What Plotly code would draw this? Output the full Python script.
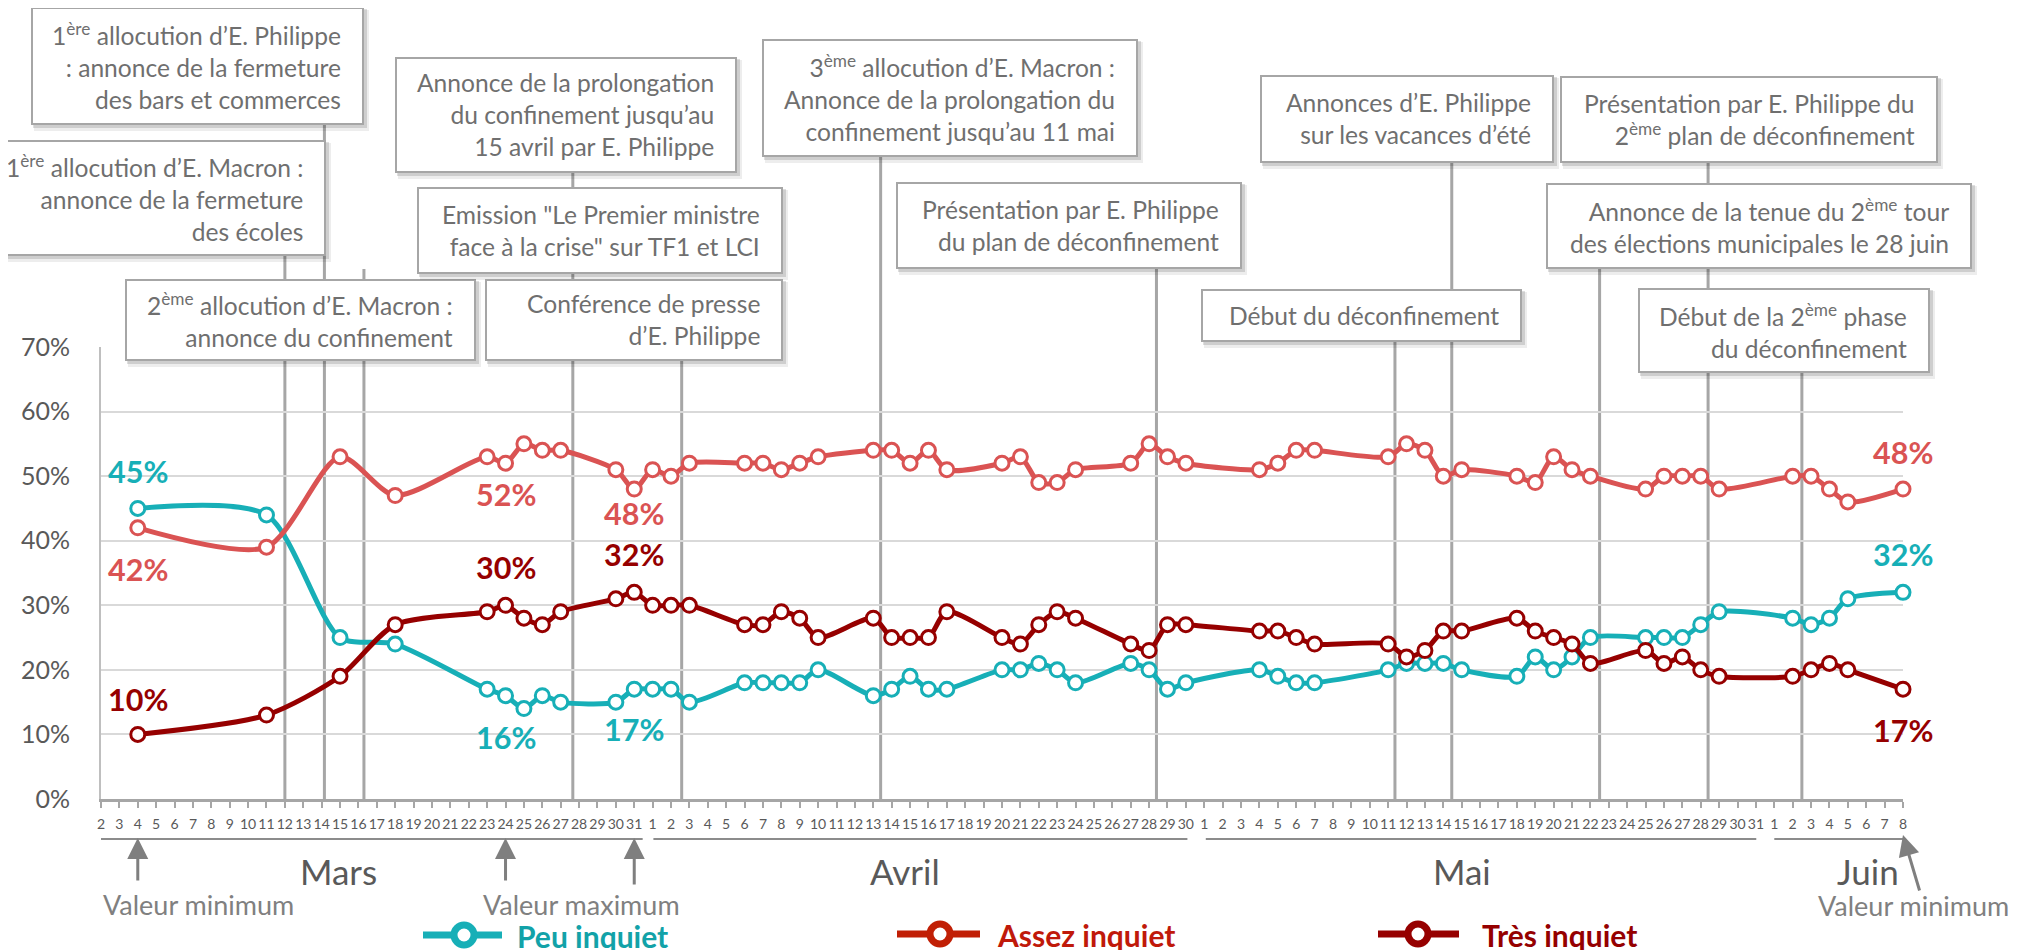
import plotly.graph_objects as go
import pandas as pd

# page body has an 8 px margin: the figure is offset by it and reaches the window's edges
PAGE_W, PAGE_H, BODY_MARGIN = 2018, 950, 8
W, H = PAGE_W - BODY_MARGIN, PAGE_H - BODY_MARGIN
FONT = "Lato, sans-serif"

# ---------------- data ----------------
dates = [
    "2020-03-04", "2020-03-11", "2020-03-15", "2020-03-18", "2020-03-23", "2020-03-24",
    "2020-03-25", "2020-03-26", "2020-03-27", "2020-03-30", "2020-03-31",
    "2020-04-01", "2020-04-02", "2020-04-03", "2020-04-06", "2020-04-07", "2020-04-08",
    "2020-04-09", "2020-04-10", "2020-04-13", "2020-04-14", "2020-04-15", "2020-04-16",
    "2020-04-17", "2020-04-20", "2020-04-21", "2020-04-22", "2020-04-23", "2020-04-24",
    "2020-04-27", "2020-04-28", "2020-04-29", "2020-04-30",
    "2020-05-04", "2020-05-05", "2020-05-06", "2020-05-07", "2020-05-11", "2020-05-12",
    "2020-05-13", "2020-05-14", "2020-05-15", "2020-05-18", "2020-05-19", "2020-05-20",
    "2020-05-21", "2020-05-22", "2020-05-25", "2020-05-26", "2020-05-27", "2020-05-28",
    "2020-05-29",
    "2020-06-02", "2020-06-03", "2020-06-04", "2020-06-05", "2020-06-08",
]
peu_inquiet = [
    45, 44, 25, 24, 17, 16, 14, 16, 15, 15, 17,
    17, 17, 15, 18, 18, 18, 18, 20, 16, 17, 19, 17, 17, 20, 20, 21, 20, 18, 21, 20, 17, 18,
    20, 19, 18, 18, 20, 21, 21, 21, 20, 19, 22, 20, 22, 25, 25, 25, 25, 27, 29,
    28, 27, 28, 31, 32,
]
assez_inquiet = [
    42, 39, 53, 47, 53, 52, 55, 54, 54, 51, 48,
    51, 50, 52, 52, 52, 51, 52, 53, 54, 54, 52, 54, 51, 52, 53, 49, 49, 51, 52, 55, 53, 52,
    51, 52, 54, 54, 53, 55, 54, 50, 51, 50, 49, 53, 51, 50, 48, 50, 50, 50, 48,
    50, 50, 48, 46, 48,
]
tres_inquiet = [
    10, 13, 19, 27, 29, 30, 28, 27, 29, 31, 32,
    30, 30, 30, 27, 27, 29, 28, 25, 28, 25, 25, 25, 29, 25, 24, 27, 29, 28, 24, 23, 27, 27,
    26, 26, 25, 24, 24, 22, 23, 26, 26, 28, 26, 25, 24, 21, 23, 21, 22, 20, 19,
    19, 20, 21, 20, 17,
]
series_names = ["Peu inquiet", "Assez inquiet", "Très inquiet"]
series_values = [peu_inquiet, assez_inquiet, tres_inquiet]
line_colors = ["#17AFB7", "#DA5353", "#960000"]
legend_colors = ["#17AFB7", "#C11F05", "#960000"]
legend_text_colors = ["#12A2A8", "#C0190A", "#950000"]

y_tickvals = [0, 10, 20, 30, 40, 50, 60, 70]
y_ticktext = ["0%", "10%", "20%", "30%", "40%", "50%", "60%", "70%"]

axis_start, axis_end = "2020-03-02", "2020-06-08"
tick_dates = [d.strftime("%Y-%m-%d") for d in pd.date_range(axis_start, axis_end, freq="D")]
tick_labels = [str(int(d[-2:])) for d in tick_dates]

months = ["Mars", "Avril", "Mai", "Juin"]
month_label_pos = ["2020-03-14 21:36", "2020-04-14 16:48", "2020-05-15 00:00", "2020-06-06 02:24"]
month_spans = [("2020-03-01 20:00", "2020-03-31 11:00"), ("2020-04-01 01:00", "2020-04-30 02:00"),
               ("2020-05-01 02:00", "2020-05-31 00:30"), ("2020-06-01 00:00", "2020-06-08 00:00")]

# event vertical lines: (date, top of line in page px)
events = [
    ("2020-03-12 00:00", 255), ("2020-03-14 03:36", 124), ("2020-03-16 07:12", 269),
    ("2020-03-27 15:50", 172), ("2020-04-02 13:55", 360), ("2020-04-13 09:36", 156),
    ("2020-04-28 09:36", 268), ("2020-05-11 08:53", 341), ("2020-05-14 11:02", 162),
    ("2020-05-22 12:00", 268), ("2020-05-28 09:36", 162), ("2020-06-02 12:00", 372),
]

# event boxes: text, x0, y0, x1, y1 (page px)
boxes = [
    ("1<sup>ère</sup> allocution d’E. Philippe<br>: annonce de la fermeture<br>des bars et commerces", 32, 8, 363, 124),
    ("1<sup>ère</sup> allocution d’E. Macron :<br>annonce de la fermeture<br>des écoles", -10, 141, 325, 255),
    ("2<sup>ème</sup> allocution d’E. Macron :<br>annonce du confinement", 126, 280, 475, 360),
    ("Annonce de la prolongation<br>du confinement jusqu’au<br>15 avril par E. Philippe", 396, 58, 736, 172),
    ("Emission \"Le Premier ministre<br>face à la crise\" sur TF1 et LCI", 418, 188, 782, 273),
    ("Conférence de presse<br>d’E. Philippe", 486, 280, 782, 360),
    ("3<sup>ème</sup> allocution d’E. Macron :<br>Annonce de la prolongation du<br>confinement jusqu’au 11 mai", 763, 40, 1137, 156),
    ("Présentation par E. Philippe<br>du plan de déconfinement", 897, 183, 1241, 268),
    ("Début du déconfinement", 1202, 290, 1521, 341),
    ("Annonces d’E. Philippe<br>sur les vacances d’été", 1261, 76, 1553, 162),
    ("Présentation par E. Philippe du<br>2<sup>ème</sup> plan de déconfinement", 1561, 77, 1937, 162),
    ("Annonce de la tenue du 2<sup>ème</sup> tour<br>des élections municipales le 28 juin", 1547, 184, 1971, 268),
    ("Début de la 2<sup>ème</sup> phase<br>du déconfinement", 1639, 289, 1929, 372),
]

# value labels: (series index, date, y shift px)
value_labels = [
    (0, "2020-03-04", 37), (1, "2020-03-04", -41), (2, "2020-03-04", 35),
    (1, "2020-03-24", -31), (2, "2020-03-24", 38), (0, "2020-03-24", -41),
    (1, "2020-03-31", -24), (2, "2020-03-31", 38), (0, "2020-03-31", -40),
    (1, "2020-06-08", 37), (0, "2020-06-08", 38), (2, "2020-06-08", -41),
]

# "Valeur" arrows: (date of tip, tip y px, ax, ay)
valeur_arrows = [("2020-03-04", 838, 0, 44), ("2020-03-24", 838, 0, 44),
                 ("2020-03-31", 838, 0, 48), ("2020-06-08", 835, 17, 57)]
valeur_texts = [("Valeur minimum", 198.7, 904), ("Valeur maximum", 581, 904), ("Valeur minimum", 1913.5, 905)]

# legend geometry (page px): line x0, x1, circle cx, text x, y
legend_geom = [(423, 502, 464, 515, 935), (897, 980, 940, 995, 934), (1378, 1459, 1418, 1480, 934)]


def px(x):
    return (x - BODY_MARGIN) / W


def py(y):
    return 1 - (y - BODY_MARGIN) / H


fig = go.Figure()
for name, vals, col in zip(series_names, series_values, line_colors):
    fig.add_trace(go.Scatter(
        x=dates, y=vals, name=name, mode="lines+markers",
        line=dict(color=col, width=5, shape="spline", smoothing=0.75),
        marker=dict(symbol="circle", size=14, color="white", line=dict(color=col, width=3)),
        cliponaxis=False, showlegend=False,
    ))

shapes = []
for d, top in events:
    shapes.append(dict(type="line", xref="x", yref="paper", x0=d, x1=d, y0=py(799), y1=py(top),
                       line=dict(color="#A6A6A6", width=3), layer="between"))
for a, b in month_spans:
    shapes.append(dict(type="line", xref="x", yref="paper", x0=a, x1=b, y0=py(839), y1=py(839),
                       line=dict(color="#8C8C8C", width=2), layer="above"))

annotations = []
for text, x0, y0, x1, y1 in boxes:
    shapes.append(dict(type="rect", xref="paper", yref="paper", x0=px(x0 + 2), x1=px(x1 + 6),
                       y0=py(y1 + 7), y1=py(y0 + 2), fillcolor="rgba(0,0,0,0.07)", line_width=0, layer="above"))
    shapes.append(dict(type="rect", xref="paper", yref="paper", x0=px(x0 + 1), x1=px(x1 + 4),
                       y0=py(y1 + 4), y1=py(y0 + 1), fillcolor="rgba(0,0,0,0.13)", line_width=0, layer="above"))
    shapes.append(dict(type="rect", xref="paper", yref="paper", x0=px(x0), x1=px(x1),
                       y0=py(y1), y1=py(y0), fillcolor="white", line=dict(color="#A6A6A6", width=2),
                       layer="above"))
    annotations.append(dict(text=text, xref="paper", yref="paper", x=px(x1 - 20), y=py((y0 + y1) / 2),
                            xanchor="right", yanchor="middle", align="right", showarrow=False,
                            font=dict(family=FONT, size=24.6, color="#6F6F6F")))

for si, d, ys in value_labels:
    v = series_values[si][dates.index(d)]
    annotations.append(dict(text=f"<b>{v}%</b>", xref="x", yref="y", x=d, y=v, yshift=ys,
                            showarrow=False, xanchor="center", yanchor="middle",
                            font=dict(family=FONT, size=30.5, color=line_colors[si])))

for m, pos in zip(months, month_label_pos):
    annotations.append(dict(text=m, xref="x", yref="paper", x=pos, y=py(871), showarrow=False,
                            xanchor="center", yanchor="middle",
                            font=dict(family=FONT, size=35, color="#595959")))

for d, tip, ax, ay in valeur_arrows:
    annotations.append(dict(text=" ", xref="x", yref="paper", x=d, y=py(tip), ax=ax, ay=ay,
                            showarrow=True, arrowhead=2, arrowsize=1.4, arrowwidth=3, borderpad=0,
                            arrowcolor="#7F7F7F", font=dict(size=2)))
for t, x, y in valeur_texts:
    annotations.append(dict(text=t, xref="paper", yref="paper", x=px(x), y=py(y), showarrow=False,
                            xanchor="center", yanchor="middle",
                            font=dict(family=FONT, size=27, color="#808080")))

for (lx0, lx1, cx, tx, ly), name, col, tcol in zip(legend_geom, series_names, legend_colors, legend_text_colors):
    shapes.append(dict(type="line", xref="paper", yref="paper", x0=px(lx0), x1=px(lx1), y0=py(ly), y1=py(ly),
                       line=dict(color=col, width=7), layer="above"))
    r = 10
    shapes.append(dict(type="circle", xref="paper", yref="paper", x0=px(cx - r), x1=px(cx + r),
                       y0=py(ly + r), y1=py(ly - r), fillcolor="white", line=dict(color=col, width=7),
                       layer="above"))
    annotations.append(dict(text=f"<b>{name}</b>", xref="paper", yref="paper", x=px(tx), y=py(ly + 1),
                            xanchor="left", yanchor="middle", showarrow=False,
                            font=dict(family=FONT, size=30, color=tcol)))

fig.update_layout(
    width=W, height=H, margin=dict(l=0, r=0, t=0, b=0, pad=0, autoexpand=False),
    paper_bgcolor="white", plot_bgcolor="white", showlegend=False,
    font=dict(family=FONT, color="#595959"),
    shapes=shapes, annotations=annotations,
    xaxis=dict(type="date", domain=[px(101), px(1903)], range=[axis_start, axis_end], automargin=False,
               tickmode="array", tickvals=tick_dates, ticktext=tick_labels, tickangle=0,
               ticks="outside", ticklen=6, tickwidth=2, tickcolor="#A6A6A6",
               showline=True, linecolor="#A6A6A6", linewidth=3, showgrid=False, zeroline=False,
               tickfont=dict(family=FONT, size=14, color="#595959"), ticklabelstandoff=4),
    yaxis=dict(domain=[py(799), py(347)], range=[0, 70], tickmode="array", automargin=False,
               tickvals=y_tickvals, ticktext=y_ticktext, showgrid=True, gridcolor="#D9D9D9",
               gridwidth=2, showline=True, linecolor="#BFBFBF", linewidth=2, ticks="",
               zeroline=False, tickfont=dict(family=FONT, size=25, color="#595959"),
               ticklabelstandoff=24),
)

fig.write_html("out.html")
